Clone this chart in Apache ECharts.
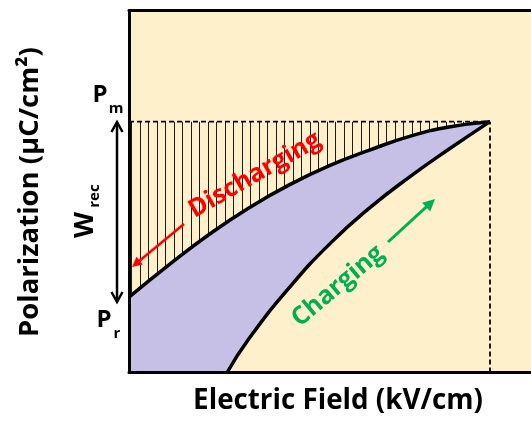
<!DOCTYPE html>
<html><head><meta charset="utf-8">
<script src="https://cdn.jsdelivr.net/npm/echarts@6/dist/echarts.min.js"></script>
<style>html,body{margin:0;padding:0;background:#fff}#c{width:531px;height:421px}</style>
</head><body><div id="c"></div>
<script>
// Discharging curve (upper, from Pr to Pm)
const dischargeX = [0, 10, 20, 30, 40, 50, 60, 70, 80, 89.8];
const dischargeY = [20.8, 29.8, 38.2, 45.6, 51.9, 57.2, 61.5, 65.3, 67.9, 69.3];
// Charging curve (lower, from origin-ish to Pm)
const chargeX = [24.4, 30, 40, 50, 60, 70, 80, 89.8];
const chargeY = [0, 9.6, 23.6, 35.6, 45.6, 54.2, 62.0, 69.3];
// Key levels
const Pm = 69.3;
const Emax = 89.8;
const hatchX = [0, Emax];
const hatchY = [Pm, Pm];
const dropX = [Emax, Emax];
const dropY = [0, Pm];

const zip = (a, b) => a.map((v, i) => [v, b[i]]);

const CREAM = '#FFF0CC';
const PURPLE = '#C6BFE6';
const FONT = '"Open Sans"';

const pc = document.createElement('canvas');
pc.width = 17; pc.height = 9;
const g = pc.getContext('2d');
g.fillStyle = '#1a1a1a';
g.fillRect(4, 0, 1, 9);
g.fillRect(12, 0, 1, 9);

const mc = document.createElement('canvas').getContext('2d');
function fit(str, w) {
  mc.font = `bold 100px ${FONT}`;
  return 100 * w / mc.measureText(str).width;
}
function txt(str, x, y, size, color, rot) {
  return {type: 'text', x, y, rotation: rot || 0, z: 100,
    style: {text: str, x: 0, y: 0, font: `bold ${size}px ${FONT}`, fill: color, align: 'center', verticalAlign: 'middle'}};
}
function arrow(x1, y1, x2, y2, color, w, hl, hw, filled) {
  const els = [];
  const dx = x2 - x1, dy = y2 - y1, L = Math.hypot(dx, dy), ux = dx / L, uy = dy / L;
  const bx = x2 - ux * hl, by = y2 - uy * hl, px = -uy, py = ux;
  if (filled) {
    els.push({type: 'line', z: 100, shape: {x1, y1, x2: bx + ux, y2: by + uy}, style: {stroke: color, lineWidth: w}});
    els.push({type: 'polygon', z: 100, shape: {points: [[x2, y2], [bx + px * hw, by + py * hw], [bx - px * hw, by - py * hw]]}, style: {fill: color}});
  } else {
    els.push({type: 'line', z: 100, shape: {x1, y1, x2, y2}, style: {stroke: color, lineWidth: w}});
    els.push({type: 'polyline', z: 100, shape: {points: [[bx + px * hw, by + py * hw], [x2, y2], [bx - px * hw, by - py * hw]]}, style: {stroke: color, lineWidth: w, fill: null}});
  }
  return els;
}

const axisCommon = {
  type: 'value', min: 0, max: 100, z: 10,
  axisLine: {show: true, onZero: false, lineStyle: {color: '#000', width: 3}},
  axisTick: {show: false}, axisLabel: {show: false}, splitLine: {show: false}
};

const chart = echarts.init(document.getElementById('c'));
chart.setOption({
  animation: false,
  backgroundColor: '#fff',
  grid: {left: 129, right: 0, top: 10.5, bottom: 48.5, show: true, backgroundColor: CREAM, borderWidth: 0},
  xAxis: [Object.assign({}, axisCommon, {position: 'bottom'}), Object.assign({}, axisCommon, {position: 'top'})],
  yAxis: [Object.assign({}, axisCommon, {position: 'left'})],
  series: [
    {type: 'line', data: zip(hatchX, hatchY), symbol: 'none', z: 1,
     lineStyle: {color: '#000', width: 1.8, type: [5, 3]},
     areaStyle: {color: {image: pc, repeat: 'repeat'}, opacity: 1, origin: 'start'}},
    {type: 'line', data: zip(dischargeX, dischargeY), symbol: 'none', smooth: 0.5, z: 2,
     lineStyle: {width: 0}, areaStyle: {color: PURPLE, opacity: 1, origin: 'start'}},
    {type: 'line', data: zip(chargeX, chargeY), symbol: 'none', smooth: 0.5, z: 3,
     lineStyle: {width: 0}, areaStyle: {color: CREAM, opacity: 1, origin: 'start'}},
    {type: 'line', data: zip(dropX, dropY), symbol: 'none', z: 4,
     lineStyle: {color: '#000', width: 1.8, type: [5, 3]}},
    {type: 'line', data: zip(dischargeX, dischargeY), symbol: 'none', smooth: 0.5, z: 5,
     lineStyle: {color: '#000', width: 3.5}},
    {type: 'line', data: zip(chargeX, chargeY), symbol: 'none', smooth: 0.5, z: 5,
     lineStyle: {color: '#000', width: 3.5}}
  ],
  graphic: [
    txt('Polarization (µC/cm²)', 30, 192, fit('Polarization (µC/cm²)', 290), '#000', Math.PI / 2),
    txt('Electric Field (kV/cm)', 338, 401, fit('Electric Field (kV/cm)', 290), '#000', 0),
    txt('P', 100, 95, 24, '#000', 0),
    txt('m', 116, 109, 15, '#000', 0),
    txt('P', 104, 320, 24, '#000', 0),
    txt('r', 117, 334, 15, '#000', 0),
    txt('W', 85, 225, 27, '#000', Math.PI / 2),
    txt('rec', 95, 196, 15, '#000', Math.PI / 2),
    txt('Discharging', 255, 175, fit('Discharging', 148), '#FF0000', 30 * Math.PI / 180),
    txt('Charging', 338, 286, fit('Charging', 112), '#00B050', 40 * Math.PI / 180),
    ...arrow(184, 224, 132, 267, '#FF0000', 2.5, 10, 5, true),
    ...arrow(388, 242, 435, 199, '#00B050', 3, 12, 6, true),
    ...arrow(117, 212, 117, 122, '#000', 2.5, 10, 5.5, false),
    ...arrow(117, 212, 117, 302, '#000', 2.5, 10, 5.5, false)
  ]
});
</script></body></html>
